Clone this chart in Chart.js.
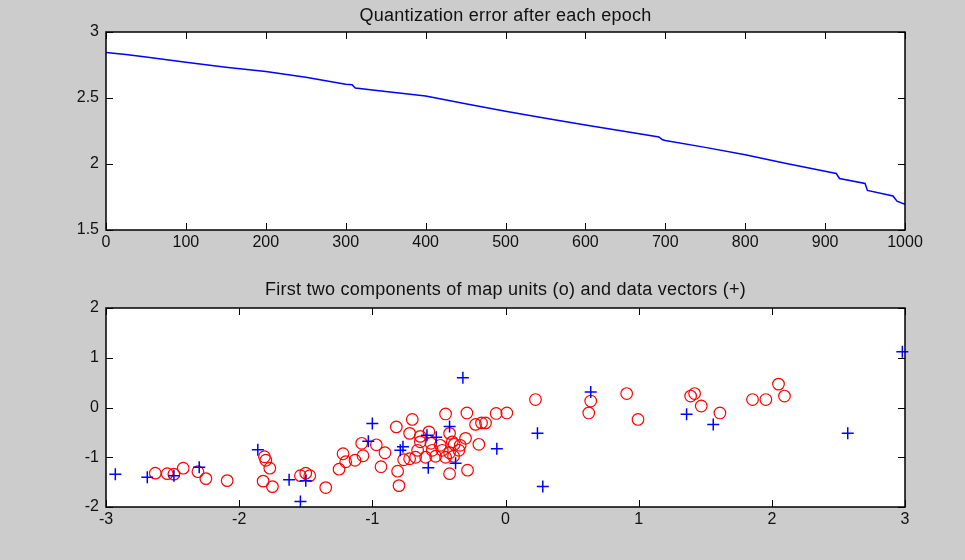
<!DOCTYPE html>
<html>
<head>
<meta charset="utf-8">
<script src="https://cdn.jsdelivr.net/npm/chart.js@4/dist/chart.umd.min.js"></script>
<style>
body { margin: 0; background: #cccccc; }
canvas { position: absolute; left: 0; }
#c1 { top: 0; }
#c2 { top: 260px; }
</style>
</head>
<body>
<canvas id="c1" width="965" height="260"></canvas>
<canvas id="c2" width="965" height="300"></canvas>
<script>
// quantization error curve
var epochs = [0, 25, 50, 100, 150, 200, 250, 300, 308, 312, 350, 400, 450, 500, 550, 600, 650, 692, 696, 700, 750, 800, 850, 900, 914, 918, 950, 953, 985, 990, 1000]
var qError = [2.845, 2.83, 2.81, 2.77, 2.733, 2.70, 2.658, 2.605, 2.60, 2.575, 2.55, 2.515, 2.456, 2.40, 2.347, 2.295, 2.246, 2.205, 2.185, 2.178, 2.126, 2.07, 2.006, 1.945, 1.928, 1.89, 1.853, 1.80, 1.758, 1.718, 1.695]

// map units (o)
var unitX = [-2.63, -2.54, -2.49, -2.42, -2.31, -2.25, -2.09, -1.81, -1.80, -1.77, -1.82, -1.75, -1.54, -1.50, -1.47, -1.35, -1.25, -1.22, -1.20, -1.13, -1.08, -1.07, -0.97, -0.905, -0.935, -0.81, -0.80,
    -0.70, -0.82, -0.45, -0.29, -0.72, -0.64, -0.575, -0.42, -0.64, -0.56, -0.49, -0.40, -0.34, -0.30, -0.55, -0.475, -0.525, -0.45, -0.39, -0.35, -0.60, -0.675, -0.72, -0.765, -0.42, -0.285, -0.66,
    0.225, -0.07, 0.01, -0.225, -0.18, -0.15, -0.20, -0.385, -0.42,
    0.64, 0.625, 0.91, 0.995, 1.39, 1.42, 1.47, 1.61, 1.855, 1.955, 2.05, 2.095]
var unitY = [-1.32, -1.33, -1.34, -1.22, -1.29, -1.43, -1.47, -0.99, -1.06, -1.22, -1.48, -1.59, -1.37, -1.32, -1.37, -1.61, -1.24, -0.93, -1.09, -1.06, -0.72, -0.97, -0.75, -0.91, -1.19, -1.28, -1.57,
    -0.24, -0.39, -0.13, -0.11, -0.52, -0.58, -0.49, -0.52, -0.69, -0.72, -0.76, -0.69, -0.76, -0.62, -0.86, -0.86, -0.98, -1.0, -0.98, -0.86, -1.0, -1.0, -1.03, -1.05, -1.33, -1.26, -0.86,
    0.16, -0.12, -0.11, -0.34, -0.31, -0.31, -0.74, -0.74, -0.91,
    0.13, -0.11, 0.28, -0.24, 0.23, 0.28, 0.03, -0.11, 0.16, 0.16, 0.47, 0.23]

// data vectors (+)
var dataX = [-2.93, -2.69, -2.49, -2.30, -1.86, -1.625, -1.50, -1.54, -1.0, -1.03, -0.79, -0.77, -0.59, -0.52, -0.58, -0.42, -0.375, -0.32, -0.065, 0.24, 0.28, 0.64, 1.36, 1.56, 2.57, 2.98]
var dataY = [-1.34, -1.40, -1.37, -1.20, -0.85, -1.45, -1.47, -1.89, -0.32, -0.68, -0.86, -0.79, -0.56, -0.60, -1.21, -0.38, -1.12, 0.60, -0.83, -0.52, -1.59, 0.31, -0.135, -0.34, -0.52, 1.12]

var fonte = { family: 'Liberation Sans', size: 16 }

function pares(xs, ys) {
    var out = []
    for (let i = 0; i < xs.length; i++) {
        out.push({ x: xs[i], y: ys[i] })
    }
    return out
}

// white axes area, matlab style box with inward ticks, title over the axes
var caixaMatlab = {
    id: 'caixaMatlab',
    beforeDraw(chart) {
        var a = chart.chartArea
        var ctx = chart.ctx
        ctx.save()
        ctx.fillStyle = 'white'
        ctx.fillRect(a.left, a.top, a.right - a.left, a.bottom - a.top)
        ctx.restore()
    },
    afterDraw(chart, args, opts) {
        var a = chart.chartArea
        var ctx = chart.ctx
        var tam = 7
        ctx.save()
        ctx.strokeStyle = '#000'
        ctx.lineWidth = 1.5
        ctx.strokeRect(a.left, a.top, a.right - a.left, a.bottom - a.top)
        ctx.beginPath()
        chart.scales.x.ticks.forEach((t) => {
            var px = Math.round(chart.scales.x.getPixelForValue(t.value)) + 0.5
            ctx.moveTo(px, a.bottom); ctx.lineTo(px, a.bottom - tam)
            ctx.moveTo(px, a.top); ctx.lineTo(px, a.top + tam)
        })
        chart.scales.y.ticks.forEach((t) => {
            var py = Math.round(chart.scales.y.getPixelForValue(t.value)) + 0.5
            ctx.moveTo(a.left, py); ctx.lineTo(a.left + tam, py)
            ctx.moveTo(a.right, py); ctx.lineTo(a.right - tam, py)
        })
        ctx.lineWidth = 1
        ctx.stroke()

        // title
        ctx.fillStyle = '#111'
        ctx.font = '18px "Liberation Sans"'
        ctx.letterSpacing = '0.25px'
        ctx.textAlign = 'center'
        ctx.textBaseline = 'middle'
        ctx.fillText(opts.texto, (a.left + a.right) / 2, opts.y)
        ctx.restore()
    }
}

function eixos(xmin, xmax, xstep, ymin, ymax, ystep, altX) {
    return {
        x: {
            type: 'linear', min: xmin, max: xmax,
            ticks: { stepSize: xstep, color: '#111', font: fonte, padding: 3, maxRotation: 0, callback: (v) => String(v) },
            grid: { display: false, drawTicks: false },
            border: { display: false },
            afterFit: (s) => { s.height = altX }
        },
        y: {
            type: 'linear', min: ymin, max: ymax,
            ticks: { stepSize: ystep, color: '#111', font: fonte, padding: 7, callback: (v) => String(v) },
            grid: { display: false, drawTicks: false },
            border: { display: false },
            afterFit: (s) => { s.width = 106 }
        }
    }
}

new Chart(document.getElementById('c1'), {
    type: 'scatter',
    data: {
        datasets: [{
            data: pares(epochs, qError),
            showLine: true,
            borderColor: '#0000ff',
            borderWidth: 1.5,
            pointRadius: 0,
            tension: 0
        }]
    },
    options: {
        responsive: false,
        animation: false,
        layout: { padding: { top: 32, right: 60 } },
        scales: eixos(0, 1000, 100, 1.5, 3, 0.5, 30),
        plugins: {
            legend: { display: false },
            tooltip: { enabled: false },
            caixaMatlab: { texto: 'Quantization error after each epoch', y: 16 }
        }
    },
    plugins: [caixaMatlab]
})

new Chart(document.getElementById('c2'), {
    type: 'scatter',
    data: {
        datasets: [{
            data: pares(dataX, dataY),
            pointStyle: 'cross',
            pointRadius: 6,
            borderColor: '#0000ff',
            borderWidth: 1.5,
            clip: false,
            order: 0
        }, {
            data: pares(unitX, unitY),
            pointStyle: 'circle',
            pointRadius: 5.8,
            borderColor: '#ff0000',
            backgroundColor: 'rgba(0,0,0,0)',
            borderWidth: 1.2,
            clip: false,
            order: 1
        }]
    },
    options: {
        responsive: false,
        animation: false,
        layout: { padding: { top: 48, right: 60 } },
        scales: eixos(-3, 3, 1, -2, 2, 1, 53),
        plugins: {
            legend: { display: false },
            tooltip: { enabled: false },
            caixaMatlab: { texto: 'First two components of map units (o) and data vectors (+)', y: 30 }
        }
    },
    plugins: [caixaMatlab]
})
</script>
</body>
</html>
